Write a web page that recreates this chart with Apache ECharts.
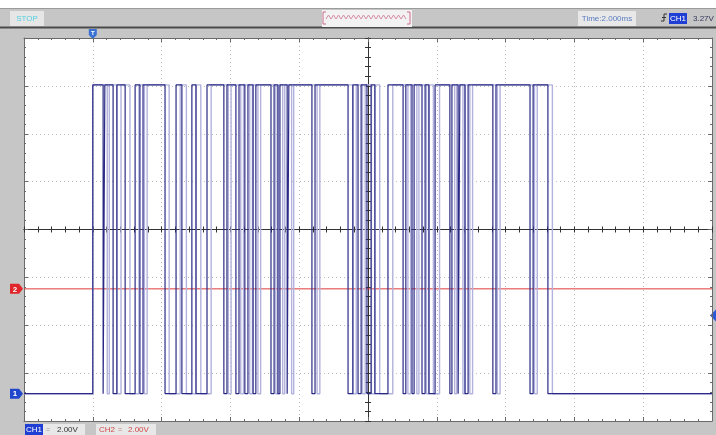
<!DOCTYPE html>
<html>
<head>
<meta charset="utf-8">
<script src="https://cdn.jsdelivr.net/npm/echarts@6/dist/echarts.min.js"></script>
<style>
  html, body { margin: 0; padding: 0; background: #fff; }
  #scope { width: 716px; height: 435px; }
</style>
</head>
<body>
<div id="scope"></div>
<script>
// Time base: 2 ms/div, 10 divisions, time relative to screen centre (ms)
const timeMin = -10;
const timeMax = 10;
const timeDiv = 2;

// Vertical: 8 divisions, both channels 2.00 V/div
const voltsPerDiv = 2;
const ch1Ground = -3.43;   // CH1 ground position, divisions from centre
const ch2Ground = -1.24;   // CH2 ground position, divisions from centre

// CH1 logic levels (V)
const ch1Low = 0;
const ch1High = 12.9;

// Trigger
const trigTime = -8;       // ms
const trigLevel = 3.27;    // V on CH1

// CH1 edge times (ms) of the latest acquisition: rise, fall, rise, fall ...
const ch1Edges = [
  -8.00, -7.70, -7.65, -7.41, -7.30, -7.06, -6.77, -6.63, -6.54, -5.90,
  -5.58, -5.41, -5.12, -5.00, -4.68, -4.19, -4.10, -3.84, -3.75, -3.58,
  -3.49, -3.34, -3.26, -2.82, -2.73, -2.62, -2.56, -2.35, -2.30, -1.63,
  -1.54, -0.58, -0.44, -0.29, -0.20, -0.03, 0.09, 0.20, 0.58, 1.02,
  1.10, 1.28, 1.34, 1.57, 1.66, 1.77, 1.95, 2.38, 2.44, 2.62,
  2.67, 2.82, 2.91, 3.63, 3.72, 4.71, 4.80, 5.23
];

// CH1 edge times (ms) of the persisted earlier acquisition
const ch1Persist = [
  -8.00, -7.58, -7.52, -7.30, -7.18, -6.92, -6.66, -6.50, -6.42, -5.78,
  -5.46, -5.28, -5.00, -4.86, -4.56, -4.06, -3.98, -3.70, -3.62, -3.44,
  -3.36, -3.20, -3.12, -2.68, -2.60, -2.48, -2.42, -2.22, -2.16, -1.48,
  -1.40, -0.44, -0.34, -0.16, -0.08, 0.10, 0.20, 0.34, 0.72, 1.16,
  1.24, 1.42, 1.48, 1.70, 1.78, 1.90, 2.08, 2.52, 2.58, 2.76,
  2.82, 2.96, 3.04, 3.76, 3.84, 4.84, 4.92, 5.36
];

// CH2 is a flat 0 V trace
const ch2Times = [timeMin, timeMax];
const ch2Values = [0, 0];

function stepTrace(edges) {
  const pts = [[timeMin, ch1Low]];
  edges.forEach((t, i) => pts.push([t, i % 2 === 0 ? ch1High : ch1Low]));
  pts.push([timeMax, ch1Low]);
  return pts;
}

const FONT = 'Liberation Sans';
const gridDots = { type: [1, 3], color: '#bcbcbc', width: 1 };
const frame = { color: '#6a6a6a', width: 1 };
const cross = { color: '#333', width: 1 };

function frameX(pos, split) {
  return {
    type: 'value', min: timeMin, max: timeMax, interval: timeDiv, position: pos,
    axisLine: { show: true, onZero: false, lineStyle: frame },
    axisTick: { show: true, inside: true, length: 4, lineStyle: frame },
    minorTick: { show: true, splitNumber: 5, length: 2, lineStyle: frame },
    axisLabel: { show: false },
    splitLine: { show: split, lineStyle: gridDots }
  };
}
function frameY(pos, split) {
  return {
    type: 'value', min: -4, max: 4, interval: 1, position: pos,
    axisLine: { show: true, onZero: false, lineStyle: frame },
    axisTick: { show: true, inside: true, length: 4, lineStyle: frame },
    minorTick: { show: true, splitNumber: 5, length: 2, lineStyle: frame },
    axisLabel: { show: false },
    splitLine: { show: split, lineStyle: gridDots }
  };
}
function centreX(inside) {
  return {
    type: 'value', min: timeMin, max: timeMax, interval: timeDiv, position: 'bottom',
    axisLine: { show: true, onZero: true, onZeroAxisIndex: 0, lineStyle: cross },
    axisTick: { show: true, inside: inside, length: 3, lineStyle: cross },
    minorTick: { show: true, splitNumber: 5, length: 3, lineStyle: cross },
    axisLabel: { show: false }, splitLine: { show: false }
  };
}
function centreY(inside) {
  return {
    type: 'value', min: -4, max: 4, interval: 1, position: 'left',
    axisLine: { show: true, onZero: true, onZeroAxisIndex: 0, lineStyle: cross },
    axisTick: { show: true, inside: inside, length: 3, lineStyle: cross },
    minorTick: { show: true, splitNumber: 5, length: 3, lineStyle: cross },
    axisLabel: { show: false }, splitLine: { show: false }
  };
}

const ch1Min = (-4 - ch1Ground) * voltsPerDiv;
const ch2Min = (-4 - ch2Ground) * voltsPerDiv;

const chart = echarts.init(document.getElementById('scope'), null, { renderer: 'canvas' });

const option = {
  animation: false,
  backgroundColor: '#c6c6c6',
  grid: { left: 24, right: 4, top: 38, bottom: 14, show: true, backgroundColor: '#ffffff', borderWidth: 0 },
  xAxis: [frameX('bottom', true), frameX('top', false), centreX(true), centreX(false)],
  yAxis: [
    frameY('left', true), frameY('right', false), centreY(true), centreY(false),
    { type: 'value', show: false, min: ch1Min, max: ch1Min + 8 * voltsPerDiv },
    { type: 'value', show: false, min: ch2Min, max: ch2Min + 8 * voltsPerDiv }
  ],
  series: [
    {
      name: 'CH2', type: 'line', xAxisIndex: 0, yAxisIndex: 5, showSymbol: false,
      data: ch2Times.map((t, i) => [t, ch2Values[i]]),
      lineStyle: { color: '#e03a3a', width: 1 }, z: 3
    },
    {
      name: 'CH1 persist', type: 'line', step: 'end', xAxisIndex: 0, yAxisIndex: 4, showSymbol: false,
      data: stepTrace(ch1Persist),
      lineStyle: { color: '#b2b2dc', width: 1.4 }, z: 4
    },
    {
      name: 'CH1', type: 'line', step: 'end', xAxisIndex: 0, yAxisIndex: 4, showSymbol: false,
      data: stepTrace(ch1Edges),
      lineStyle: { color: '#2a2a86', width: 1.2 }, z: 5
    }
  ]
};
chart.setOption(option);

// Screen furniture: status bar, channel markers and readouts
const trigPx = chart.convertToPixel({ xAxisIndex: 0, yAxisIndex: 4 }, [trigTime, trigLevel]);
const ch1Px = chart.convertToPixel({ xAxisIndex: 0, yAxisIndex: 4 }, [0, 0]);
const ch2Px = chart.convertToPixel({ xAxisIndex: 0, yAxisIndex: 5 }, [0, 0]);

const zig = [];
for (let x = 326; x <= 408; x += 2.5) zig.push([x, (Math.round((x - 326) / 2.5) % 2) ? 15 : 19]);

function chip(x, y, w, h, fill, label, color, align) {
  return [
    { type: 'rect', shape: { x: x, y: y, width: w, height: h }, style: { fill: fill } },
    { type: 'text', x: align === 'left' ? x + 3 : x + w / 2, y: y + h / 2 + 0.5,
      style: { text: label, fill: color, font: '8px ' + FONT, align: align || 'center', verticalAlign: 'middle' } }
  ];
}
function flag(y, fill, label) {
  return [
    { type: 'polygon', shape: { points: [[10, y - 5], [19, y - 5], [23, y], [19, y + 5], [10, y + 5]] }, style: { fill: fill } },
    { type: 'text', x: 15, y: y + 0.5, style: { text: label, fill: '#fff', font: 'bold 8px ' + FONT, align: 'center', verticalAlign: 'middle' } }
  ];
}

chart.setOption({
  graphic: [
    { type: 'rect', shape: { x: 0, y: 0, width: 716, height: 8 }, style: { fill: '#ffffff' } },
    { type: 'line', shape: { x1: 0, y1: 8.5, x2: 716, y2: 8.5 }, style: { stroke: '#9a9a9a', lineWidth: 1 } },
    { type: 'line', shape: { x1: 0, y1: 27.5, x2: 716, y2: 27.5 }, style: { stroke: '#4a4a4a', lineWidth: 2 } },
    ...chip(10, 11, 34, 15, '#e6e6e6', 'STOP', '#52cfe0'),
    { type: 'rect', shape: { x: 322, y: 10, width: 90, height: 17 }, style: { fill: '#f2f2f2' } },
    { type: 'polyline', shape: { points: zig }, style: { stroke: '#d88aa8', lineWidth: 1, fill: null } },
    { type: 'polyline', shape: { points: [[326, 12], [323, 12], [323, 24], [326, 24]] }, style: { stroke: '#d06a8a', lineWidth: 1, fill: null } },
    { type: 'polyline', shape: { points: [[407, 12], [410, 12], [410, 24], [407, 24]] }, style: { stroke: '#d06a8a', lineWidth: 1, fill: null } },
    ...chip(578, 11, 58, 15, '#e8e8e8', 'Time:2.000ms', '#5a7cc0'),
    { type: 'polyline', shape: { points: [[661, 21], [664, 21], [664, 14], [667, 14]] }, style: { stroke: '#333', lineWidth: 1, fill: null } },
    { type: 'line', shape: { x1: 662, y1: 17.5, x2: 666, y2: 17.5 }, style: { stroke: '#333', lineWidth: 1 } },
    ...chip(669, 13, 18, 11, '#1f3fd4', 'CH1', '#ffffff'),
    { type: 'text', x: 693, y: 19, style: { text: '3.27V', fill: '#33385a', font: '8px ' + FONT, verticalAlign: 'middle' } },

    // trigger time marker
    { type: 'polygon', shape: { points: [[trigPx[0] - 4, 29], [trigPx[0] + 4, 29], [trigPx[0] + 4, 35], [trigPx[0], 39], [trigPx[0] - 4, 35]] }, style: { fill: '#3a72d4' } },
    { type: 'text', x: trigPx[0], y: 33, style: { text: 'T', fill: '#fff', font: 'bold 6px ' + FONT, align: 'center', verticalAlign: 'middle' } },
    // trigger level marker
    { type: 'polygon', shape: { points: [[716, trigPx[1] - 6], [710, trigPx[1]], [716, trigPx[1] + 6]] }, style: { fill: '#2a5ad8' } },
    // channel ground markers
    ...flag(ch2Px[1], '#e0262a', '2'),
    ...flag(ch1Px[1], '#2046cc', '1'),

    // bottom readouts
    { type: 'rect', shape: { x: 25, y: 424, width: 60, height: 11 }, style: { fill: '#e8e8e8' } },
    ...chip(25, 424, 18, 11, '#1f3fd4', 'CH1', '#ffffff'),
    { type: 'text', x: 46, y: 430, style: { text: '=', fill: '#999', font: '7px ' + FONT, verticalAlign: 'middle' } },
    { type: 'text', x: 57, y: 430, style: { text: '2.00V', fill: '#333', font: '8px ' + FONT, verticalAlign: 'middle' } },
    { type: 'rect', shape: { x: 96, y: 424, width: 60, height: 11 }, style: { fill: '#e8e8e8' } },
    { type: 'text', x: 99, y: 430, style: { text: 'CH2', fill: '#d04848', font: '8px ' + FONT, verticalAlign: 'middle' } },
    { type: 'text', x: 118, y: 430, style: { text: '=', fill: '#c08080', font: '7px ' + FONT, verticalAlign: 'middle' } },
    { type: 'text', x: 128, y: 430, style: { text: '2.00V', fill: '#d04848', font: '8px ' + FONT, verticalAlign: 'middle' } }
  ]
});
</script>
</body>
</html>
